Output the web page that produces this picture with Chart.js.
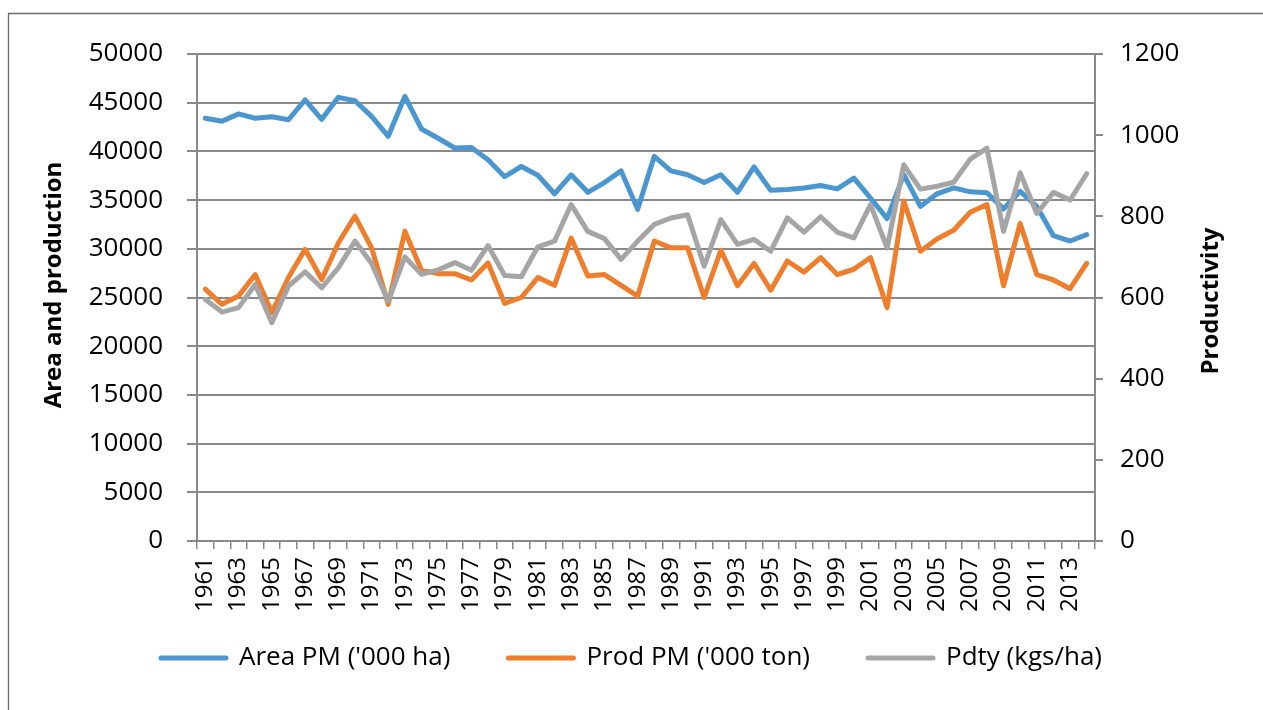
<!DOCTYPE html>
<html lang="en">
<head>
<meta charset="utf-8">
<title>Area, production and productivity</title>
<script src="https://cdn.jsdelivr.net/npm/chart.js@4.4.1/dist/chart.umd.min.js"></script>
<style>
  html, body { margin: 0; padding: 0; background: #fff; }
  #wrap { width: 1263px; height: 710px; position: relative; }
</style>
</head>
<body>
<div id="wrap"><canvas id="chart"></canvas></div>
<script>
// data
var years = ['1961','1962','1963','1964','1965','1966','1967','1968','1969','1970',
             '1971','1972','1973','1974','1975','1976','1977','1978','1979','1980',
             '1981','1982','1983','1984','1985','1986','1987','1988','1989','1990',
             '1991','1992','1993','1994','1995','1996','1997','1998','1999','2000',
             '2001','2002','2003','2004','2005','2006','2007','2008','2009','2010',
             '2011','2012','2013','2014'];

var areaPM = [43400,43100,43850,43400,43550,43250,45300,43300,45550,45200,
              43600,41550,45650,42300,41350,40350,40400,39150,37400,38450,
              37550,35650,37600,35800,36800,38000,34050,39500,38000,37600,
              36800,37600,35800,38400,36000,36100,36250,36500,36150,37250,
              35200,33100,37600,34350,35650,36250,35850,35750,34100,35900,
              34350,31350,30800,31450];

var prodPM = [25850,24300,25150,27350,23450,27050,29950,26850,30600,33350,
              30100,24300,31800,27800,27450,27450,26800,28550,24400,25000,
              27050,26250,31100,27200,27350,26250,25150,30800,30100,30100,
              25000,29850,26200,28500,25750,28750,27600,29100,27350,27900,
              29100,23950,34900,29750,31000,31900,33750,34550,26200,32600,
              27350,26800,25900,28500];

var pdty = [595,564,575,632,538,628,663,624,673,739,
            684,591,700,657,668,686,667,728,654,651,
            725,739,829,763,745,694,739,780,796,804,
            677,792,731,743,714,796,761,799,761,747,
            829,722,927,867,874,884,941,968,763,907,
            807,859,840,905];

var seriesNames = ["Area PM ('000 ha)", "Prod PM ('000 ton)", "Pdty (kgs/ha)"];
var leftTitle = 'Area and production';
var rightTitle = 'Productivity';

var FONT = "'Open Sans', sans-serif";
var GRID = '#898989';

// white background, outer frame and the two axis titles
var decor = {
  id: 'decor',
  beforeDraw: function (chart) {
    var ctx = chart.ctx;
    ctx.save();
    ctx.fillStyle = '#fff';
    ctx.fillRect(0, 0, chart.width, chart.height);
    ctx.strokeStyle = '#6b6b6b';
    ctx.lineWidth = 1.3;
    ctx.beginPath();
    ctx.moveTo(8.5, chart.height);
    ctx.lineTo(8.5, 13.5);
    ctx.lineTo(chart.width, 13.5);
    ctx.stroke();
    ctx.restore();
  },
  afterDraw: function (chart) {
    var ctx = chart.ctx;
    ctx.save();
    ctx.fillStyle = '#000';
    ctx.font = 'bold 24px ' + FONT;
    ctx.textAlign = 'center';
    ctx.textBaseline = 'middle';
    ctx.translate(54, 285);
    ctx.rotate(-Math.PI / 2);
    ctx.fillText(leftTitle, 0, 0);
    ctx.restore();

    ctx.save();
    ctx.fillStyle = '#000';
    ctx.font = 'bold 24px ' + FONT;
    ctx.textAlign = 'center';
    ctx.textBaseline = 'middle';
    ctx.translate(1211, 301);
    ctx.rotate(-Math.PI / 2);
    ctx.fillText(rightTitle, 0, 0);
    ctx.restore();
  }
};

// legend box: fixed height, then nudged up so the row sits where it does in the picture
var LEGEND_H = 97;
var LEGEND_SHIFT = 26;
var legendFit = {
  id: 'legendFit',
  beforeLayout: function (chart) {
    var lg = chart.legend;
    if (lg && !lg._fixed) {
      var fit = lg.fit;
      lg.fit = function () { fit.call(this); this.height = LEGEND_H; };
      lg._fixed = true;
    }
  },
  afterLayout: function (chart) {
    var lg = chart.legend;
    if (lg) {
      lg.top -= LEGEND_SHIFT;
      lg.bottom -= LEGEND_SHIFT;
    }
  }
};

new Chart(document.getElementById('chart'), {
  type: 'line',
  data: {
    labels: years,
    datasets: [{
      label: seriesNames[0],
      data: areaPM,
      yAxisID: 'y',
      borderColor: '#4a96d0',
      backgroundColor: '#4a96d0',
      order: 2
    }, {
      label: seriesNames[1],
      data: prodPM,
      yAxisID: 'y',
      borderColor: '#ee7d2c',
      backgroundColor: '#ee7d2c',
      order: 1
    }, {
      label: seriesNames[2],
      data: pdty,
      yAxisID: 'y1',
      borderColor: '#a5a5a5',
      backgroundColor: '#a5a5a5',
      order: 0
    }]
  },
  options: {
    responsive: true,
    maintainAspectRatio: false,
    animation: false,
    devicePixelRatio: 1,
    elements: {
      line: { borderWidth: 5, tension: 0, borderJoinStyle: 'round', borderCapStyle: 'round', fill: false },
      point: { radius: 0, hoverRadius: 0 }
    },
    layout: { padding: { top: 54, left: 0, right: 0, bottom: 0 } },
    plugins: {
      tooltip: { enabled: false },
      legend: {
        position: 'bottom',
        labels: {
          usePointStyle: true,
          pointStyle: 'line',
          pointStyleWidth: 65,
          boxHeight: 5,
          padding: 58,
          color: '#000',
          font: { family: FONT, size: 26 },
          sort: function (a, b) { return a.datasetIndex - b.datasetIndex; },
          generateLabels: function (chart) {
            var items = Chart.defaults.plugins.legend.labels.generateLabels(chart);
            items.forEach(function (it) {
              it.lineWidth = 5;
              it.lineCap = 'round';
            });
            return items;
          }
        }
      }
    },
    scales: {
      x: {
        offset: true,
        afterFit: function (s) { s.height = 72; },
        grid: { offset: true, drawOnChartArea: false, drawTicks: true, tickLength: 8, color: GRID, lineWidth: 1.5 },
        border: { display: true, color: GRID, width: 2 },
        ticks: {
          autoSkip: false,
          minRotation: 90,
          maxRotation: 90,
          padding: 8,
          color: '#000',
          font: { family: FONT, size: 24 },
          callback: function (v, i) { return i % 2 === 0 ? years[i] : ''; }
        }
      },
      y: {
        position: 'left',
        min: 0,
        max: 50000,
        afterFit: function (s) { s.width = 197; },
        grid: { color: GRID, lineWidth: 2, tickLength: 10 },
        border: { display: true, color: GRID, width: 2 },
        ticks: {
          stepSize: 5000,
          padding: 24,
          color: '#000',
          font: { family: FONT, size: 26 },
          callback: function (v) { return String(v); }
        }
      },
      y1: {
        position: 'right',
        min: 0,
        max: 1200,
        afterFit: function (s) { s.width = 168; },
        grid: { drawOnChartArea: false, color: GRID, lineWidth: 2, tickLength: 8 },
        border: { display: true, color: GRID, width: 2 },
        ticks: {
          stepSize: 200,
          padding: 17,
          color: '#000',
          font: { family: FONT, size: 26 },
          callback: function (v) { return String(v); }
        }
      }
    }
  },
  plugins: [decor, legendFit]
});
</script>
</body>
</html>
